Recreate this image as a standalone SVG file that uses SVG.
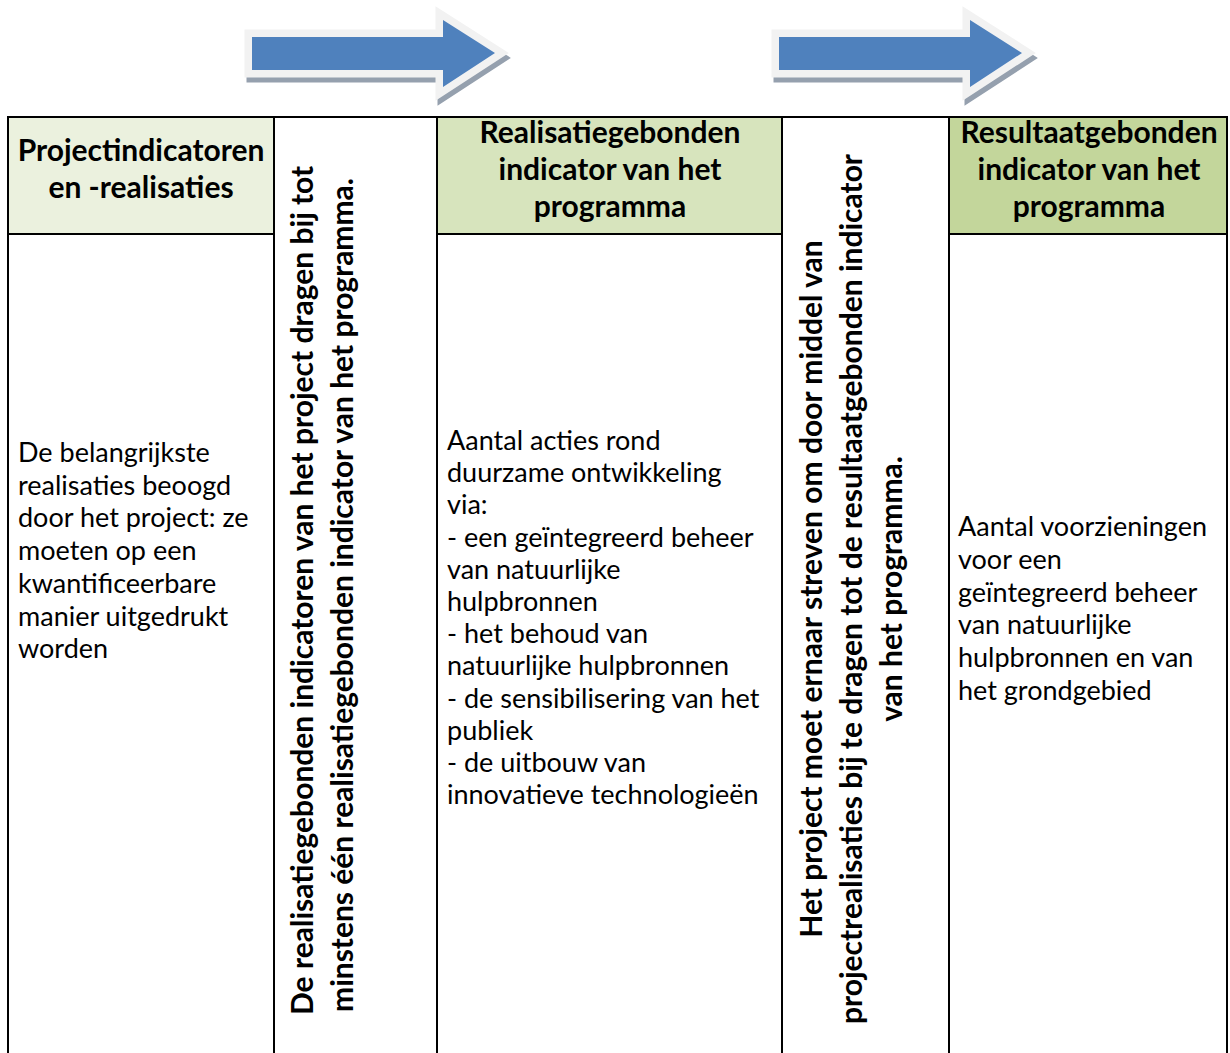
<svg xmlns="http://www.w3.org/2000/svg" width="1230" height="1053" viewBox="0 0 1230 1053">
<style>
.h{font-family:Lato,"Liberation Sans",sans-serif;font-weight:bold;font-size:30px;fill:#000;text-anchor:middle}
.b{font-family:Lato,"Liberation Sans",sans-serif;font-size:27px;fill:#000}
.v{font-family:Lato,"Liberation Sans",sans-serif;font-weight:bold;font-size:30px;fill:#000}
.vc{text-anchor:middle}
.ln{stroke:#000;stroke-width:2;fill:none}
.ash{fill:#95A0AE;stroke:#95A0AE;stroke-width:15;stroke-linejoin:miter}
.agl{fill:#F2F2F2;stroke:#F2F2F2;stroke-width:15;stroke-linejoin:miter}
.abd{fill:#4F81BD}
</style>
<defs>
<polygon id="arrowShape" points="0,17 191,17 191,0 243,33 191,67 191,50 0,50"/>
</defs>
<rect width="1230" height="1053" fill="#fff"/>

<g id="connectors">
  <g id="arrow-1" transform="translate(252,20)">
    <use href="#arrowShape" class="ash" transform="translate(2,5)"/>
    <use href="#arrowShape" class="agl"/>
    <use href="#arrowShape" class="abd"/>
  </g>
  <g id="arrow-2" transform="translate(779,20)">
    <use href="#arrowShape" class="ash" transform="translate(2,5)"/>
    <use href="#arrowShape" class="agl"/>
    <use href="#arrowShape" class="abd"/>
  </g>
</g>

<g id="col1-project">
  <rect x="8" y="117" width="266" height="117" fill="#EBF1DE"/>
  <text class="h" x="141" y="161">Projectindicatoren</text>
  <text class="h" x="141" y="198">en -realisaties</text>
  <text class="b" x="18" y="462">De belangrijkste</text>
  <text class="b" x="18" y="494.7">realisaties beoogd</text>
  <text class="b" x="18" y="527.4">door het project: ze</text>
  <text class="b" x="18" y="560.1">moeten op een</text>
  <text class="b" x="18" y="592.8">kwantificeerbare</text>
  <text class="b" x="18" y="625.5">manier uitgedrukt</text>
  <text class="b" x="18" y="658.2">worden</text>
</g>

<g id="col2-link">
  <text class="v" transform="translate(313,1015) rotate(-90)">De realisatiegebonden indicatoren van het project dragen bij tot</text>
  <text class="v" transform="translate(353,1012) rotate(-90)">minstens één realisatiegebonden indicator van het programma.</text>
</g>

<g id="col3-realisatie">
  <rect x="437" y="117" width="345" height="117" fill="#D7E4BD"/>
  <text class="h" x="610" y="143">Realisatiegebonden</text>
  <text class="h" x="610" y="180">indicator van het</text>
  <text class="h" x="610" y="217">programma</text>
  <text class="b" x="447" y="450">Aantal acties rond</text>
  <text class="b" x="447" y="482.2">duurzame ontwikkeling</text>
  <text class="b" x="447" y="514.4">via:</text>
  <text class="b" x="447" y="546.6">- een geïntegreerd beheer</text>
  <text class="b" x="447" y="578.8">van natuurlijke</text>
  <text class="b" x="447" y="611">hulpbronnen</text>
  <text class="b" x="447" y="643.2">- het behoud van</text>
  <text class="b" x="447" y="675.4">natuurlijke hulpbronnen</text>
  <text class="b" x="447" y="707.6">- de sensibilisering van het</text>
  <text class="b" x="447" y="739.8">publiek</text>
  <text class="b" x="447" y="772">- de uitbouw van</text>
  <text class="b" x="447" y="804.2">innovatieve technologieën</text>
</g>

<g id="col4-link">
  <text class="v vc" transform="translate(822,589) rotate(-90)">Het project moet ernaar streven om door middel van</text>
  <text class="v vc" transform="translate(862,589) rotate(-90)">projectrealisaties bij te dragen tot de resultaatgebonden indicator</text>
  <text class="v vc" transform="translate(902,589) rotate(-90)">van het programma.</text>
</g>

<g id="col5-resultaat">
  <rect x="949" y="117" width="278" height="117" fill="#C3D69B"/>
  <text class="h" x="1089" y="143">Resultaatgebonden</text>
  <text class="h" x="1089" y="180">indicator van het</text>
  <text class="h" x="1089" y="217">programma</text>
  <text class="b" x="958" y="536">Aantal voorzieningen</text>
  <text class="b" x="958" y="568.8">voor een</text>
  <text class="b" x="958" y="601.6">geïntegreerd beheer</text>
  <text class="b" x="958" y="634.4">van natuurlijke</text>
  <text class="b" x="958" y="667.2">hulpbronnen en van</text>
  <text class="b" x="958" y="700">het grondgebied</text>
</g>

<g id="table-grid" class="ln">
  <line x1="7" y1="117" x2="1228" y2="117"/>
  <line x1="8" y1="234" x2="274" y2="234"/>
  <line x1="437" y1="234" x2="782" y2="234"/>
  <line x1="949" y1="234" x2="1227" y2="234"/>
  <line x1="8" y1="116" x2="8" y2="1053"/>
  <line x1="274" y1="116" x2="274" y2="1053"/>
  <line x1="437" y1="116" x2="437" y2="1053"/>
  <line x1="782" y1="116" x2="782" y2="1053"/>
  <line x1="949" y1="116" x2="949" y2="1053"/>
  <line x1="1227" y1="116" x2="1227" y2="1053"/>
</g>
</svg>
